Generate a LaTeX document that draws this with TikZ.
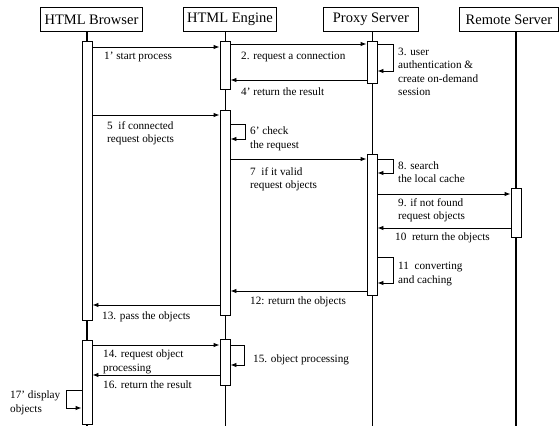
\documentclass[tikz,border=0pt]{standalone}
\usepackage{fontspec}
\setmainfont{Liberation Serif}
\usetikzlibrary{arrows.meta,calc}
\begin{document}
\begin{tikzpicture}[x=1pt,y=-1pt,
  head/.style={draw,line width=0.9pt,inner sep=0pt,minimum height=24pt,font=\fontsize{14.5}{16}\selectfont,anchor=north west},
  life/.style={line width=0.8pt},
  act/.style={draw,line width=0.9pt,fill=white,minimum width=10pt,inner sep=0pt,anchor=north},
  msg/.style={line width=0.9pt,-{Latex[length=6pt,width=4.5pt]}},
  lbl/.style={font=\fontsize{11.2}{13.5}\selectfont,anchor=west,align=left,inner sep=0pt}]
\useasboundingbox (0,0) rectangle (559,426);

% participants
\node[head,minimum width=102pt] (hb) at (40,7) {HTML Browser};
\node[head,minimum width=93pt]  (he) at (183,7) {HTML Engine};
\node[head,minimum width=95pt]  (hp) at (323,7) {Proxy Server};
\node[head,minimum width=99pt]  (hr) at (459,7) {Remote Server};

% lifelines
\coordinate (endb) at (87,426);
\coordinate (ende) at (225,426);
\coordinate (endp) at (372,426);
\coordinate (endr) at (516,426);
\draw[life,line width=1.4pt] (hb.south -| endb) -- (endb);
\draw[life] (he.south -| ende) -- (ende);
\draw[life] (hp.south -| endp) -- (endp);
\draw[life,line width=1.4pt] (hr.south -| endr) -- (endr);

% activations
\node[act,minimum height=279pt] (ba) at (87,41) {};
\node[act,minimum height=84pt]  (bb) at (87,340) {};
\node[act,minimum height=48pt]  (ea) at (225,41) {};
\node[act,minimum height=205pt] (eb) at (225,110) {};
\node[act,minimum height=46pt]  (ec) at (225,339) {};
\node[act,minimum height=42pt]  (pa) at (372,41) {};
\node[act,minimum height=141pt] (pb) at (372,154) {};
\node[act,minimum height=49pt]  (ra) at (516,188) {};

% message heights
\coordinate (y1) at (0,47);
\coordinate (y2) at (0,44);
\coordinate (y4) at (0,80);
\coordinate (y5) at (0,115);
\coordinate (y7) at (0,159);
\coordinate (y9) at (0,194);
\coordinate (y10) at (0,228);
\coordinate (y12) at (0,291);
\coordinate (y13) at (0,305);
\coordinate (y14) at (0,345);
\coordinate (y16) at (0,375);

% messages
\draw[msg] (ba.east |- y1) -- (ea.west |- y1);
\node[lbl] (l1) at (104,57) {1' start process};
\draw[msg] (ea.east |- y2) -- (pa.west |- y2);
\node[lbl] (l2) at (241,57) {2. request a connection};
\draw[msg] ($(pa.north east)+(0,3)$) -| ++(16,27) -- ($(pa.north east)+(0,30)$);
\node[lbl] (l3) at (398,72) {3. user\\authentication \&\\create on-demand\\session};
\draw[msg] (pa.west |- y4) -- (ea.east |- y4);
\node[lbl] (l4) at (241,92) {4' return the result};

\draw[msg] (ba.east |- y5) -- (eb.west |- y5);
\node[lbl] (l5) at (107,133) {5\ \ if connected\\request objects};
\draw[msg] ($(eb.north east)+(0,14)$) -| ++(15,15) -- ($(eb.north east)+(0,29)$);
\node[lbl] (l6) at (250,139) {6' check\\the request};
\draw[msg] (eb.east |- y7) -- (pb.west |- y7);
\node[lbl] (l7) at (250,179) {7\ \ if it valid\\request objects};
\draw[msg] ($(pb.north east)+(0,5)$) -| ++(16,14) -- ($(pb.north east)+(0,19)$);
\node[lbl] (l8) at (398,172) {8. search\\the local cache};
\draw[msg] (pb.east |- y9) -- (ra.west |- y9);
\node[lbl] (l9) at (398,210) {9. if not found\\request objects};
\draw[msg] (ra.west |- y10) -- (pb.east |- y10);
\node[lbl] (l10) at (395,238) {10\ \ return the objects};
\draw[msg] ($(pb.north east)+(0,103)$) -| ++(16,26) -- ($(pb.north east)+(0,129)$);
\node[lbl] (l11) at (398,274) {11\ \ converting\\and caching};
\draw[msg] (pb.west |- y12) -- (eb.east |- y12);
\node[lbl] (l12) at (250,302) {12: return the objects};
\draw[msg] (eb.west |- y13) -- (ba.east |- y13);
\node[lbl] (l13) at (102,317) {13. pass the objects};

\draw[msg] (bb.east |- y14) -- (ec.west |- y14);
\node[lbl] (l14) at (103,362) {14. request object\\processing};
\draw[msg] ($(ec.north east)+(0,6)$) -| ++(14,20) -- ($(ec.north east)+(0,26)$);
\node[lbl] (l15) at (253,360) {15. object processing};
\draw[msg] (ec.west |- y16) -- (bb.east |- y16);
\node[lbl] (l16) at (103,385) {16. return the result};
\draw[msg] ($(bb.north west)+(0,50)$) -| ++(-15,18) -- ($(bb.north west)+(0,68)$);
\node[lbl] (l17) at (10,403) {17' display\\objects};
\end{tikzpicture}
\end{document}
